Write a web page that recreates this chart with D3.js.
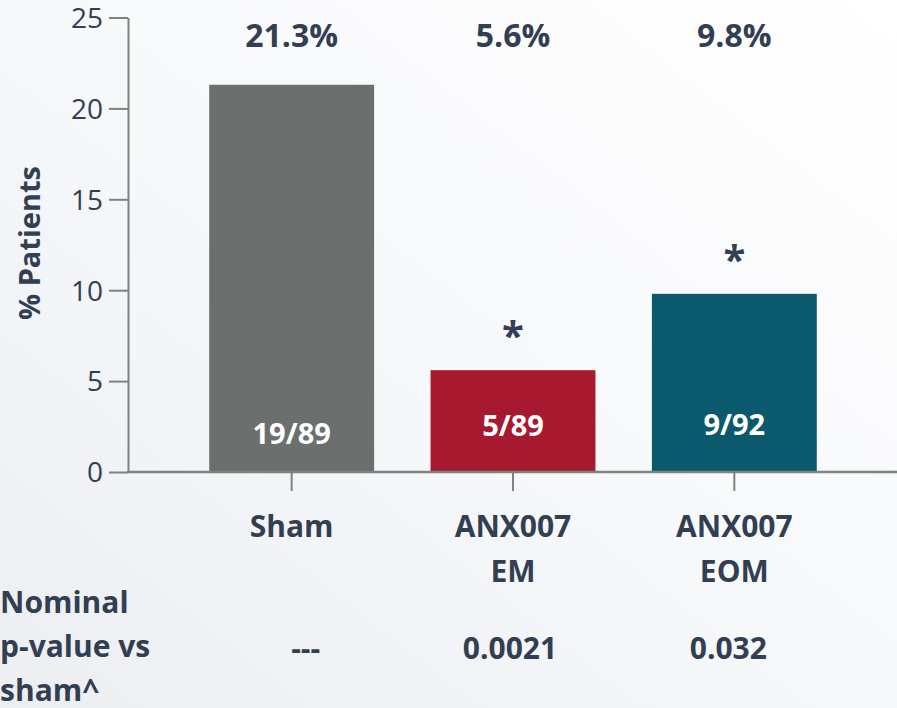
<!DOCTYPE html>
<html>
<head>
<meta charset="utf-8">
<script src="https://cdn.jsdelivr.net/npm/d3@7"></script>
<style>
  html, body { margin: 0; padding: 0; background: #fff; }
  svg { display: block; font-family: "Open Sans", "Noto Sans", sans-serif; }
</style>
</head>
<body>
<script>
// ---- data ----
const categories = ["Sham", "ANX007 EM", "ANX007 EOM"];
const categoryLines = [["Sham"], ["ANX007", "EM"], ["ANX007", "EOM"]];
const percentValues = [21.3, 5.6, 9.8];
const percentLabels = ["21.3%", "5.6%", "9.8%"];
const countLabels = ["19/89", "5/89", "9/92"];
const significant = [false, true, true];
const pValueLabels = ["---", "0.0021", "0.032"];
const pValueRowTitle = ["Nominal", "p-value vs", "sham^"];
const yTicks = [0, 5, 10, 15, 20, 25];
const yTitle = "% Patients";
const barColors = ["#6b706f", "#a6192e", "#0b596d"];

// ---- layout ----
const W = 897, H = 708;
const textColor = "#323f52";
const axisColor = "#7f8281";

const svg = d3.select("body").append("svg").attr("width", W).attr("height", H);

const defs = svg.append("defs");
const grad = defs.append("linearGradient").attr("id", "bg")
  .attr("x1", "0").attr("y1", "1").attr("x2", "1").attr("y2", "0");
grad.append("stop").attr("offset", "0").attr("stop-color", "#eceef2");
grad.append("stop").attr("offset", "0.55").attr("stop-color", "#f8f9fb");
grad.append("stop").attr("offset", "1").attr("stop-color", "#ffffff");
svg.append("rect").attr("width", W).attr("height", H).attr("fill", "url(#bg)");

const y = d3.scaleLinear().domain([0, 25]).range([472, 17.5]);
const x = d3.scaleBand().domain(categories).range([181, 845])
  .paddingInner(0.255).paddingOuter(0.1275);
const axisX = 128;

// bars
svg.append("g").selectAll("rect").data(categories).join("rect")
  .attr("x", d => x(d))
  .attr("width", x.bandwidth())
  .attr("y", (d, i) => y(percentValues[i]))
  .attr("height", (d, i) => y(0) - y(percentValues[i]))
  .attr("fill", (d, i) => barColors[i]);

// y axis
const yAxis = svg.append("g").attr("transform", `translate(${axisX},0)`)
  .call(d3.axisLeft(y).tickValues(yTicks).tickSize(19).tickSizeOuter(0).tickPadding(6));
yAxis.select(".domain").attr("stroke", axisColor).attr("stroke-width", 2);
yAxis.selectAll(".tick line").attr("stroke", axisColor).attr("stroke-width", 2);
yAxis.selectAll(".tick text").attr("fill", textColor)
  .attr("font-size", 28).attr("font-family", "'Open Sans', sans-serif").attr("dy", "0.35em");

// x axis
svg.append("line").attr("x1", axisX - 1).attr("x2", W).attr("y1", y(0)).attr("y2", y(0))
  .attr("stroke", axisColor).attr("stroke-width", 2.5);
const xAxis = svg.append("g").attr("transform", `translate(0,${y(0)})`)
  .call(d3.axisBottom(x).tickSize(19).tickSizeOuter(0).tickFormat(""));
xAxis.select(".domain").remove();
xAxis.selectAll(".tick line").attr("stroke", axisColor).attr("stroke-width", 2);

// category labels
const catG = svg.append("g").attr("fill", textColor).attr("font-weight", 700)
  .attr("font-size", 30).attr("text-anchor", "middle");
categories.forEach((c, i) => {
  const t = catG.append("text").attr("x", x(c) + x.bandwidth() / 2).attr("y", 537);
  categoryLines[i].forEach((line, j) => {
    t.append("tspan").attr("x", x(c) + x.bandwidth() / 2).attr("dy", j === 0 ? 0 : 45).text(line);
  });
});

// percentage labels on top
svg.append("g").selectAll("text").data(categories).join("text")
  .attr("x", d => x(d) + x.bandwidth() / 2)
  .attr("y", 47)
  .attr("text-anchor", "middle")
  .attr("font-size", 32).attr("font-weight", 700).attr("fill", textColor)
  .text((d, i) => percentLabels[i]);

// counts inside bars
const innerY = [444, 436, 435];
svg.append("g").selectAll("text").data(categories).join("text")
  .attr("x", d => x(d) + x.bandwidth() / 2)
  .attr("y", (d, i) => innerY[i])
  .attr("text-anchor", "middle")
  .attr("font-size", 29).attr("font-weight", 700).attr("fill", "#ffffff")
  .text((d, i) => countLabels[i]);

// significance asterisks
svg.append("g").selectAll("text").data(categories.filter((d, i) => significant[i])).join("text")
  .attr("x", d => x(d) + x.bandwidth() / 2)
  .attr("y", d => y(percentValues[categories.indexOf(d)]) - 20)
  .attr("text-anchor", "middle")
  .attr("font-size", 40).attr("font-weight", 700).attr("fill", textColor)
  .text("*");

// y title
svg.append("text")
  .attr("transform", `translate(40,243) rotate(-90)`)
  .attr("text-anchor", "middle")
  .attr("font-size", 29).attr("font-weight", 700).attr("fill", textColor)
  .text(yTitle);

// p-value row
const pT = svg.append("text").attr("x", 0).attr("y", 613)
  .attr("font-size", 30).attr("font-weight", 700).attr("fill", textColor);
pValueRowTitle.forEach((line, j) => {
  pT.append("tspan").attr("x", 0).attr("dy", j === 0 ? 0 : 44).text(line);
});
const pOffset = [14, -3, -6];
svg.append("g").selectAll("text").data(categories).join("text")
  .attr("x", (d, i) => x(d) + x.bandwidth() / 2 + pOffset[i])
  .attr("y", 659)
  .attr("text-anchor", "middle")
  .attr("font-size", 30).attr("font-weight", 700).attr("fill", textColor)
  .text((d, i) => pValueLabels[i]);
</script>
</body>
</html>
